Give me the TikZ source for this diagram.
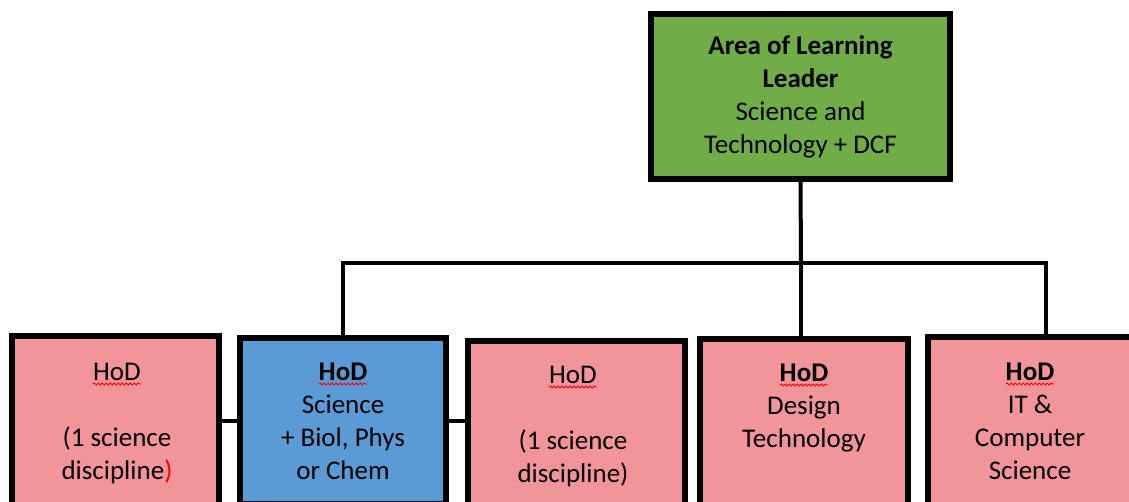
\documentclass[tikz,border=0pt]{standalone}
\usepackage{fontspec}
\setmainfont{Carlito}
\usetikzlibrary{decorations.pathmorphing}
\definecolor{leadgreen}{RGB}{112,173,71}
\definecolor{hodpink}{RGB}{241,149,155}
\definecolor{hodblue}{RGB}{91,155,213}
\begin{document}
\begin{tikzpicture}[x=1pt,y=-1pt,
  box/.style={draw=black, line width=6.5pt, rectangle, outer sep=0pt, inner sep=0pt},
  txt/.style={align=center, inner sep=0pt, font=\fontsize{27}{33}\selectfont, text=black},
  link/.style={draw=black, line width=4pt},
  wavy/.style={draw=red, line width=0.9pt, decorate, decoration={snake, segment length=4pt, amplitude=1pt}}]
\useasboundingbox (0,0) rectangle (1129,501);
\clip (0,0) rectangle (1129,501);
% top box
\node[box, fill=leadgreen, minimum width=299pt, minimum height=165pt] (top) at (800.5,96.5) {};
\node[txt] (ttop) at (top.center) {\textbf{Area of Learning}\\\textbf{Leader}\\Science and\\Technology + DCF};
% bottom boxes
\node[box, fill=hodpink, minimum width=207pt, minimum height=170pt] (b1) at (115.5,421) {};
\node[box, fill=hodblue, minimum width=206pt, minimum height=166pt] (b2) at (343,421) {};
\node[box, fill=hodpink, minimum width=217pt, minimum height=200pt, anchor=north] (b3) at (576.5,341) {};
\node[box, fill=hodpink, minimum width=208pt, minimum height=200pt, anchor=north] (b4) at (804,339) {};
\node[box, fill=hodpink, minimum width=210pt, minimum height=200pt, anchor=north] (b5) at (1033,337) {};
% texts
\node[txt, anchor=north] (t1) at (117,363) {HoD\\\strut\\(1 science\\discipline{\color{red})}};
\node[txt, anchor=north] (t2) at (343,363) {\textbf{HoD}\\Science\\+ Biol, Phys\\or Chem};
\node[txt, anchor=north] (t3) at (573,366) {HoD\\\strut\\(1 science\\discipline)};
\node[txt, anchor=north] (t4) at (804,364) {\textbf{HoD}\\Design\\Technology};
\node[txt, anchor=north] (t5) at (1030,363) {\textbf{HoD}\\IT \&\\Computer\\Science};
% spell-check underlines
\foreach \t in {t1,t2,t3,t4,t5}{
  \draw[wavy] ([xshift=-24pt,yshift=-21pt]\t.north) -- ([xshift=24pt,yshift=-21pt]\t.north);
}
% connectors
\coordinate (bus) at (801,263);
\draw[link] (top.south) -- (bus);
\draw[link] (b2.north) |- (bus) -| ([xshift=13pt]b5.north);
\draw[link] (bus) -- (bus |- b4.north);
\draw[link] (b1.east) -- (b2.west);
\draw[link] (b2.east) -- (b2.east -| b3.west);
\end{tikzpicture}
\end{document}
